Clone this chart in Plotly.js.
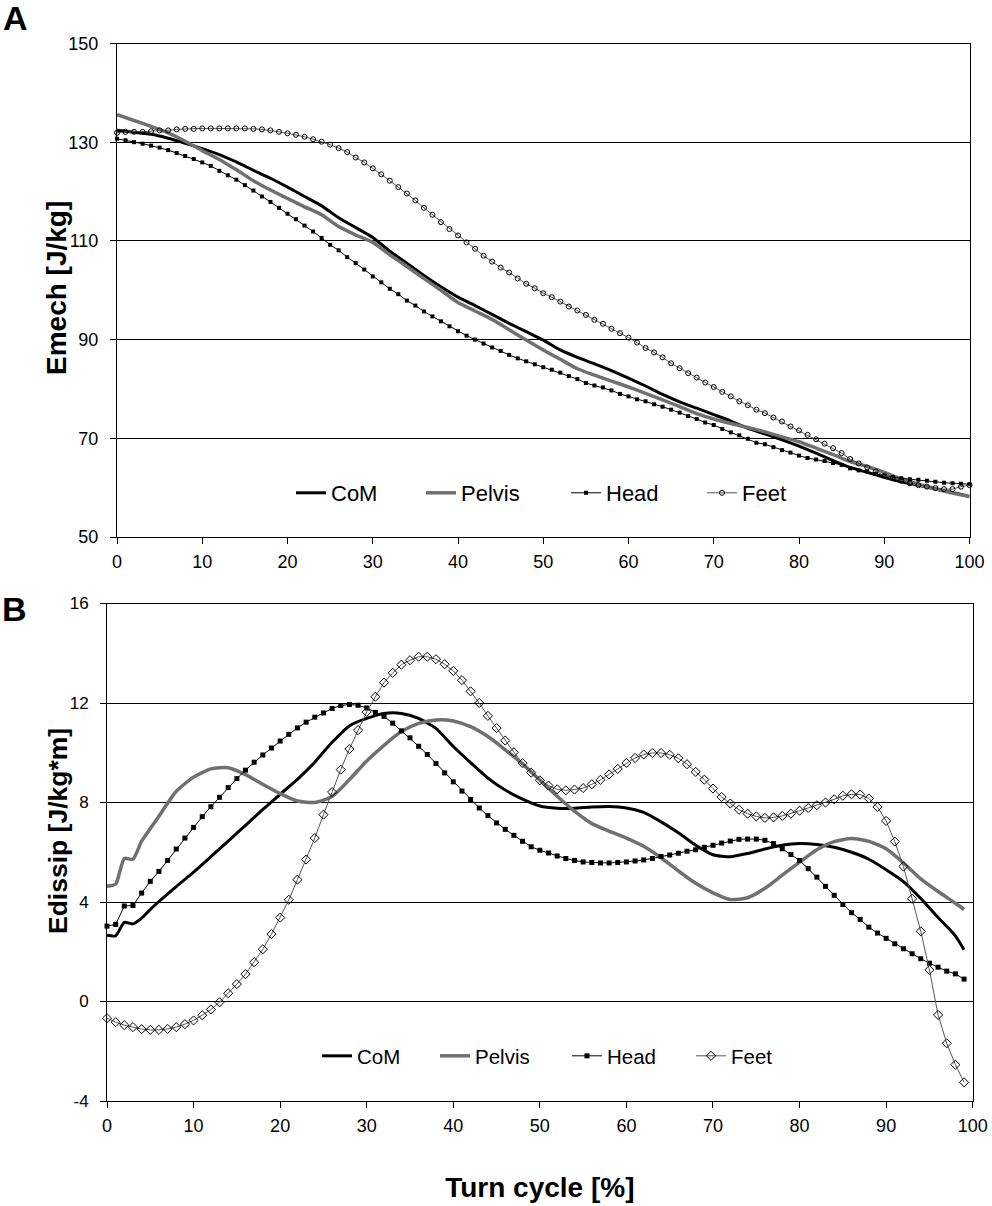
<!DOCTYPE html>
<html>
<head>
<meta charset="utf-8">
<script src="https://cdn.plot.ly/plotly-3.0.1.min.js"></script>
<style>html,body{margin:0;padding:0;background:#fff;}#chart{width:992px;height:1206px;}</style>
</head>
<body>
<div id="chart"></div>
<script>
// ---------- Panel A: Emech [J/kg] ----------
const pctA = [0,1,2,3,4,5,6,7,8,9,10,11,12,13,14,15,16,17,18,19,20,21,22,23,24,25,26,27,28,29,30,31,32,33,34,35,36,37,38,39,40,41,42,43,44,45,46,47,48,49,50,51,52,53,54,55,56,57,58,59,60,61,62,63,64,65,66,67,68,69,70,71,72,73,74,75,76,77,78,79,80,81,82,83,84,85,86,87,88,89,90,91,92,93,94,95,96,97,98,99,100];
const pctA2 = [0,2,4,6,8,10,12,14,16,18,20,22,24,26,28,30,32,34,36,38,40,42,44,46,48,50,52,54,56,58,60,62,64,66,68,70,72,74,76,78,80,82,84,86,88,90,92,94,96,98,100];
const comA = [132.4,132.0,131.6,130.8,129.8,128.7,127.5,126.0,124.3,122.7,120.9,119.0,117.1,114.7,112.7,110.7,107.9,105.5,103.0,100.7,98.6,96.9,95.1,93.3,91.6,89.9,87.9,86.4,85.1,83.7,82.2,80.6,78.9,77.4,76.1,74.8,73.5,72.0,70.9,69.7,68.4,67.0,65.5,64.1,63.1,62.1,61.2,60.5,59.7,59.0,58.2];
const pelvisA = [135.6,134.4,133.2,131.9,130.2,128.3,126.5,124.4,122.2,120.3,118.6,116.9,115.3,112.9,111.2,109.7,107.2,104.8,102.4,100.0,97.5,95.8,94.1,92.0,89.9,87.9,86.0,84.1,82.8,81.6,80.4,79.1,77.8,76.4,75.0,73.9,73.0,72.2,71.3,70.3,69.3,68.0,66.7,65.3,64.3,63.1,61.8,60.7,59.8,58.9,58.2];
const headA = [130.7,130.4,130.0,129.7,129.3,128.9,128.4,127.8,127.2,126.6,125.9,125.2,124.2,123.3,122.4,121.3,120.2,119.0,117.9,116.7,115.5,114.4,113.1,111.9,110.6,109.2,108.1,106.7,105.5,104.2,102.8,101.6,100.3,99.2,97.9,96.9,95.7,94.7,93.7,92.7,91.7,90.8,90.0,89.2,88.4,87.7,86.9,86.2,85.6,85.0,84.4,83.9,83.3,82.6,82.0,81.2,80.7,80.3,79.7,79.0,78.5,77.9,77.5,76.9,76.4,75.8,75.2,74.5,73.9,73.2,72.7,71.9,71.2,70.6,69.9,69.1,68.8,68.2,67.6,67.1,66.5,66.0,65.7,65.4,65.0,64.6,63.9,63.5,63.3,62.8,62.4,62.1,61.9,61.7,61.6,61.4,61.2,61.0,60.9,60.8,60.7];
const feetA = [131.9,132.1,132.1,132.1,132.2,132.4,132.4,132.6,132.7,132.7,132.8,132.8,132.8,132.8,132.8,132.8,132.7,132.6,132.4,132.1,131.8,131.5,131.1,130.6,130.1,129.5,128.8,128.0,126.9,125.9,124.7,123.5,122.2,120.9,119.6,118.2,116.7,115.3,113.8,112.4,111.1,109.7,108.4,107.0,105.8,104.6,103.6,102.4,101.3,100.4,99.4,98.6,97.7,96.7,95.9,95.0,94.0,93.2,92.2,91.3,90.4,89.4,88.3,87.4,86.4,85.2,84.2,83.2,82.3,81.3,80.4,79.4,78.5,77.5,76.7,75.8,75.1,74.2,73.4,72.4,71.6,70.7,69.8,68.9,68.0,67.0,65.8,64.9,64.1,63.3,62.4,61.9,61.4,60.9,60.5,60.2,59.9,59.7,59.7,60.2,60.5];
const tickValsA = [50,70,90,110,130,150];
const tickTextA = ['50','70','90','110','130','150'];

// ---------- Panel B: Edissip [J/kg*m] ----------
const pctB = [0,1,2,3,4,5,6,7,8,9,10,11,12,13,14,15,16,17,18,19,20,21,22,23,24,25,26,27,28,29,30,31,32,33,34,35,36,37,38,39,40,41,42,43,44,45,46,47,48,49,50,51,52,53,54,55,56,57,58,59,60,61,62,63,64,65,66,67,68,69,70,71,72,73,74,75,76,77,78,79,80,81,82,83,84,85,86,87,88,89,90,91,92,93,94,95,96,97,98,99];
const pctB2 = [0,1,2,3,4,5,6,8,10,12,14,16,18,20,22,24,26,28,30,32,34,36,38,40,42,44,46,48,50,52,54,56,58,60,62,64,66,68,70,72,74,76,78,80,82,84,86,88,90,92,94,96,98,99];
const comB = [2.66,2.64,3.18,3.12,3.35,3.70,4.02,4.62,5.20,5.82,6.45,7.08,7.72,8.33,8.93,9.62,10.42,11.08,11.38,11.58,11.58,11.38,10.98,10.25,9.60,8.98,8.50,8.14,7.86,7.77,7.77,7.82,7.84,7.78,7.60,7.22,6.78,6.28,5.90,5.82,5.95,6.13,6.28,6.35,6.31,6.20,6.00,5.72,5.30,4.82,4.14,3.38,2.64,2.08];
const pelvisB = [4.63,4.72,5.75,5.72,6.45,6.95,7.45,8.45,9.02,9.35,9.40,9.12,8.73,8.36,8.06,8.00,8.24,8.92,9.67,10.30,10.85,11.18,11.32,11.28,11.05,10.65,10.12,9.55,8.90,8.25,7.65,7.15,6.85,6.57,6.24,5.78,5.25,4.75,4.37,4.10,4.17,4.55,5.08,5.60,6.10,6.43,6.55,6.44,6.14,5.57,4.93,4.42,3.95,3.70];
const headB = [3.03,3.10,3.84,3.86,4.36,4.83,5.23,5.67,6.13,6.57,7.00,7.43,7.83,8.21,8.60,8.96,9.30,9.62,9.91,10.19,10.47,10.74,11.00,11.23,11.43,11.60,11.78,11.90,11.94,11.91,11.80,11.62,11.46,11.19,10.88,10.60,10.26,9.93,9.57,9.19,8.83,8.46,8.12,7.78,7.47,7.18,6.92,6.68,6.44,6.22,6.08,5.97,5.85,5.75,5.67,5.61,5.59,5.57,5.57,5.59,5.61,5.65,5.69,5.75,5.83,5.89,5.96,6.04,6.10,6.20,6.28,6.37,6.45,6.52,6.53,6.53,6.48,6.35,6.14,5.91,5.67,5.34,5.00,4.63,4.27,3.90,3.57,3.30,2.99,2.75,2.54,2.32,2.12,1.92,1.72,1.54,1.38,1.22,1.11,0.90];
const feetB = [-0.67,-0.83,-0.95,-1.03,-1.11,-1.14,-1.14,-1.10,-1.03,-0.91,-0.76,-0.55,-0.32,-0.03,0.33,0.70,1.10,1.58,2.10,2.71,3.37,4.09,4.90,5.71,6.57,7.51,8.42,9.32,10.15,10.91,11.64,12.25,12.82,13.21,13.54,13.72,13.86,13.86,13.76,13.56,13.29,12.92,12.47,12.00,11.48,10.99,10.49,10.02,9.58,9.20,8.89,8.68,8.53,8.49,8.52,8.58,8.73,8.91,9.13,9.35,9.59,9.79,9.93,9.99,9.99,9.92,9.78,9.54,9.23,8.92,8.56,8.22,7.96,7.71,7.55,7.44,7.38,7.40,7.46,7.55,7.67,7.78,7.89,8.00,8.13,8.27,8.33,8.32,8.16,7.82,7.26,6.43,5.43,4.13,2.82,1.27,-0.54,-1.68,-2.54,-3.25];
const tickValsB = [-4,0,4,8,12,16];
const tickTextB = ['-4','0','4','8','12','16'];

const seriesNames = ['CoM','Pelvis','Head','Feet'];

const FONT = 'Liberation Sans, Arial, Helvetica, sans-serif';
const GRAY = '#707070';

const traces = [
  {x:pctA2, y:comA, name:seriesNames[0], xaxis:'x', yaxis:'y', mode:'lines', line:{color:'#000', width:3, shape:'spline', smoothing:0.6}, legend:'legend', legendwidth:85},
  {x:pctA2, y:pelvisA, name:seriesNames[1], xaxis:'x', yaxis:'y', mode:'lines', line:{color:GRAY, width:3.5, shape:'spline', smoothing:0.6}, legend:'legend', legendwidth:100},
  {x:pctA, y:headA, name:seriesNames[2], xaxis:'x', yaxis:'y', mode:'lines+markers', line:{color:'#000', width:1}, marker:{symbol:'square', size:4, color:'#000'}, legend:'legend', legendwidth:91, cliponaxis:false},
  {x:pctA, y:feetA, name:seriesNames[3], xaxis:'x', yaxis:'y', mode:'lines+markers', line:{color:'#555', width:1}, marker:{symbol:'circle-open', size:5, color:'#000', line:{width:1}}, legend:'legend', legendwidth:50, cliponaxis:false},

  {x:pctB2, y:comB, name:seriesNames[0], xaxis:'x2', yaxis:'y2', mode:'lines', line:{color:'#000', width:3, shape:'spline', smoothing:0.6}, legend:'legend2', legendwidth:73},
  {x:pctB2, y:pelvisB, name:seriesNames[1], xaxis:'x2', yaxis:'y2', mode:'lines', line:{color:GRAY, width:3.5, shape:'spline', smoothing:0.6}, legend:'legend2', legendwidth:87},
  {x:pctB, y:headB, name:seriesNames[2], xaxis:'x2', yaxis:'y2', mode:'lines+markers', line:{color:'#000', width:1}, marker:{symbol:'square', size:5, color:'#000'}, legend:'legend2', legendwidth:79, cliponaxis:false},
  {x:pctB, y:feetB, name:seriesNames[3], xaxis:'x2', yaxis:'y2', mode:'lines+markers', line:{color:'#555', width:1}, marker:{symbol:'diamond-open', size:7, color:'#000', line:{width:1}}, legend:'legend2', legendwidth:50, cliponaxis:false}
];

const W = 992, H = 1206;
const axCommon = {
  showline:true, linecolor:'#000', linewidth:1, mirror:true,
  ticks:'outside', ticklen:6, tickcolor:'#000', tickwidth:1,
  showgrid:false, zeroline:false, automargin:false,
  tickfont:{family:FONT, size:18, color:'#000'}
};

const layout = {
  width:W, height:H,
  margin:{l:0, r:0, t:0, b:0},
  paper_bgcolor:'#fff', plot_bgcolor:'#fff',
  font:{family:FONT, color:'#000'},
  xaxis: Object.assign({}, axCommon, {
    domain:[117/W, 969.5/W], anchor:'y', range:[0,100], tick0:0, dtick:10,
    ticklabelstandoff:2
  }),
  yaxis: Object.assign({}, axCommon, {
    domain:[1-537/H, 1-43.5/H], anchor:'x', range:[50,150],
    tickmode:'array', tickvals:tickValsA, ticktext:tickTextA,
    showgrid:true, gridcolor:'#000', gridwidth:1, ticklabelstandoff:8,
    title:{text:''}
  }),
  xaxis2: Object.assign({}, axCommon, {
    domain:[107/W, 972.7/W], anchor:'y2', range:[0,100], tick0:0, dtick:10,
    ticklabelstandoff:2,
    title:{text:'<b>Turn cycle [%]</b>', font:{family:FONT, size:28, color:'#000'}, standoff:42}
  }),
  yaxis2: Object.assign({}, axCommon, {
    domain:[1-1101/H, 1-603.5/H], anchor:'x2', range:[-4,16],
    tickmode:'array', tickvals:tickValsB, ticktext:tickTextB,
    showgrid:true, gridcolor:'#000', gridwidth:1, ticklabelstandoff:8,
    tickfont:{family:FONT, size:17, color:'#000'},
    title:{text:''}
  }),
  legend:{
    orientation:'h', x:291/W, xanchor:'left', y:1-493/H, yanchor:'middle',
    bgcolor:'rgba(0,0,0,0)', borderwidth:0, font:{family:FONT, size:22, color:'#000'},
    traceorder:'normal'
  },
  legend2:{
    orientation:'h', x:317/W, xanchor:'left', y:1-1056/H, yanchor:'middle',
    bgcolor:'rgba(0,0,0,0)', borderwidth:0, font:{family:FONT, size:20.5, color:'#000'},
    traceorder:'normal'
  },
  showlegend:true,
  annotations:[
    {text:'<b>A</b>', xref:'paper', yref:'paper', x:15/W, y:1-18/H, xanchor:'center', yanchor:'middle', showarrow:false, font:{family:FONT, size:34, color:'#000'}},
    {text:'<b>B</b>', xref:'paper', yref:'paper', x:14/W, y:1-609/H, xanchor:'center', yanchor:'middle', showarrow:false, font:{family:FONT, size:34, color:'#000'}},
    {text:'<b>Emech [J/kg]</b>', xref:'paper', yref:'paper', x:56/W, y:1-288/H, xanchor:'center', yanchor:'middle', textangle:-90, showarrow:false, font:{family:FONT, size:28, color:'#000'}},
    {text:'<b>Edissip [J/kg*m]</b>', xref:'paper', yref:'paper', x:58/W, y:1-831/H, xanchor:'center', yanchor:'middle', textangle:-90, showarrow:false, font:{family:FONT, size:26.5, color:'#000'}}
  ]
};

Plotly.newPlot('chart', traces, layout, {displayModeBar:false, staticPlot:true});
</script>
</body>
</html>
